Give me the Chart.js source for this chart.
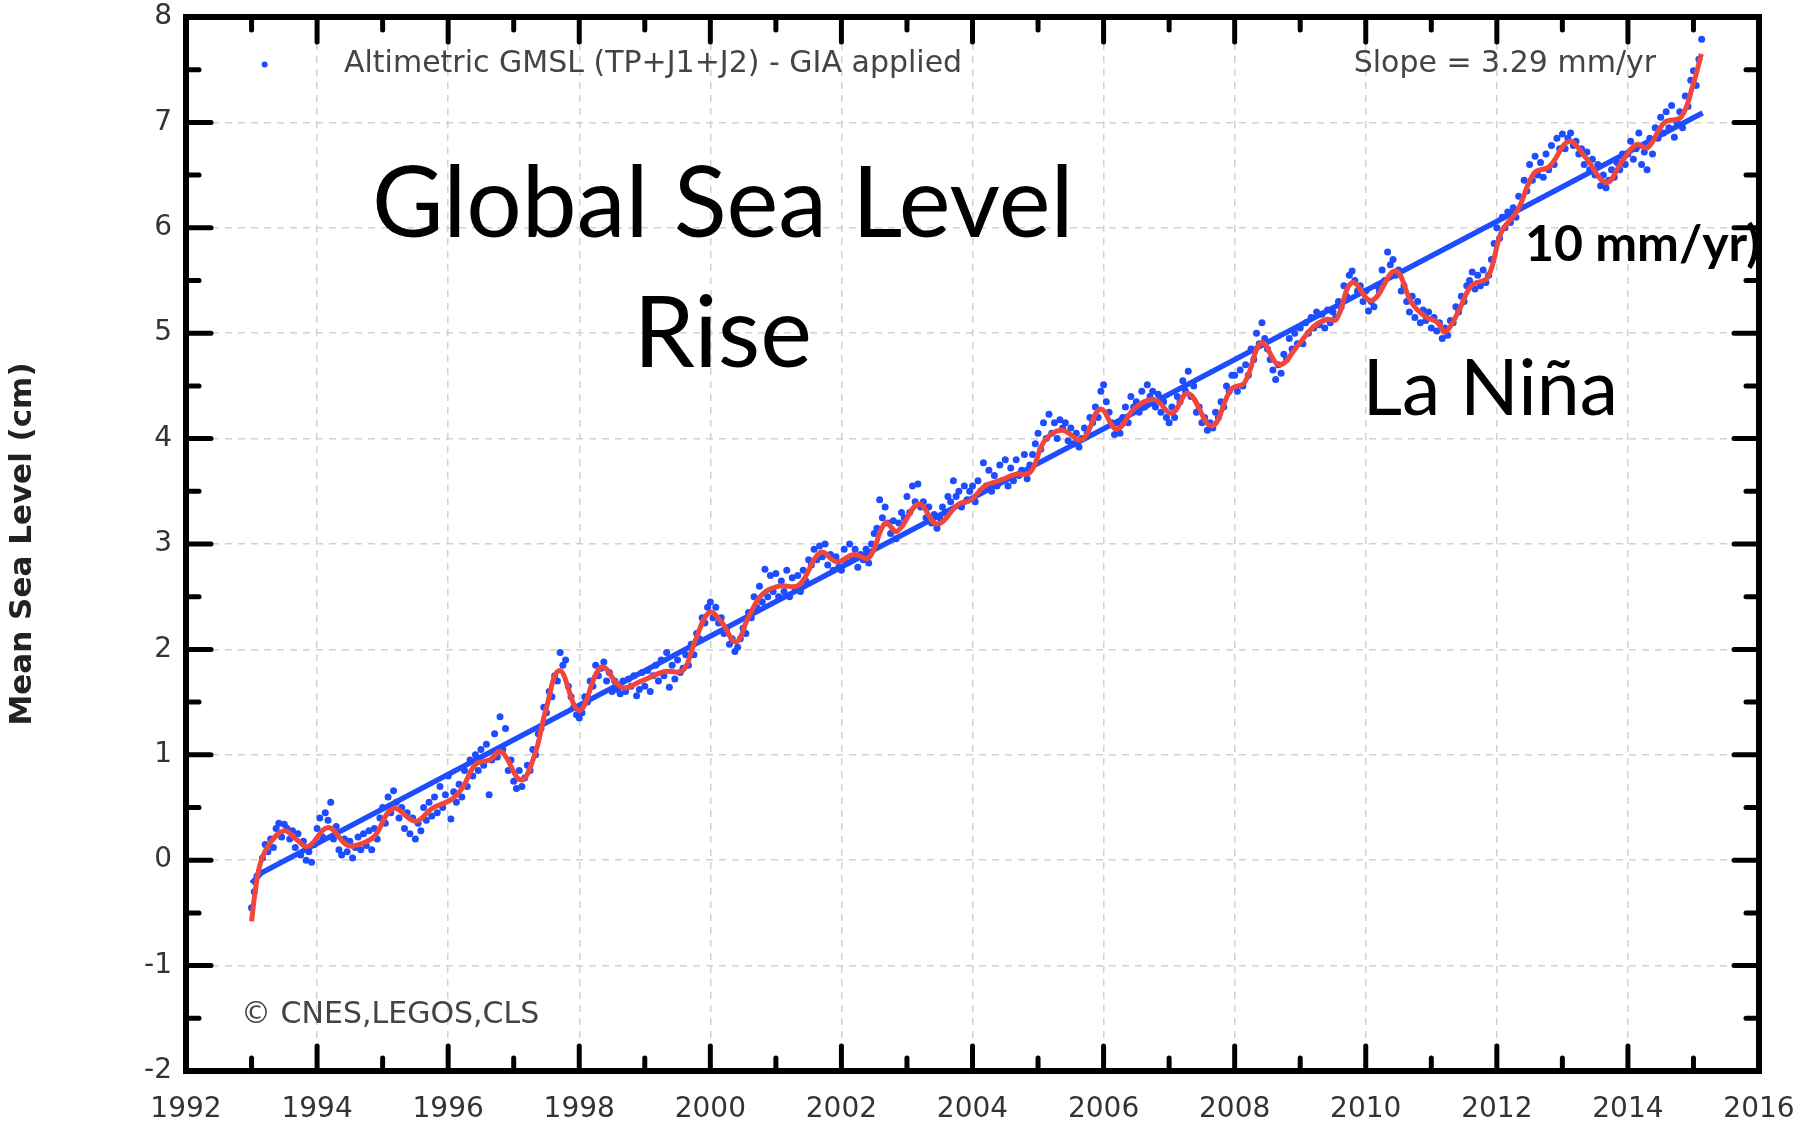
<!DOCTYPE html>
<html>
<head>
<meta charset="utf-8">
<script src="https://cdn.jsdelivr.net/npm/chart.js@4.4.0/dist/chart.umd.min.js"></script>
<style>
  html, body { margin: 0; padding: 0; background: #fff; }
  #wrap { width: 1797px; height: 1127px; position: relative; }
</style>
</head>
<body>
<div id="wrap"><canvas id="gmsl"></canvas></div>
<script>
// altimetric GMSL, one value every half month from 1993.0 (cm)
const gmslStart = 1993.0;
const gmslStep = 1 / 24;
const gmslValues = [
  -0.45, -0.3, -0.15, -0.12, 0.02, 0.15, 0.08, 0.2, 0.12, 0.3, 0.35, 0.22, 0.34, 0.3, 0.2, 0.28, 0.12, 0.25, 0.05, 0.18, 0.0, 0.08, -0.02, 0.15,
  0.3, 0.4, 0.22, 0.45, 0.38, 0.55, 0.2, 0.32, 0.1, 0.05, 0.2, 0.08, 0.18, 0.02, 0.12, 0.22, 0.1, 0.25, 0.14, 0.28, 0.1, 0.3, 0.2, 0.4,
  0.5, 0.35, 0.6, 0.45, 0.66, 0.55, 0.4, 0.5, 0.3, 0.45, 0.25, 0.4, 0.2, 0.35, 0.28, 0.5, 0.38, 0.55, 0.42, 0.6, 0.45, 0.7, 0.5, 0.62,
  0.8, 0.39, 0.65, 0.55, 0.72, 0.6, 0.85, 0.7, 0.95, 0.8, 1.0, 0.85, 1.05, 0.9, 1.1, 0.62, 0.95, 1.2, 0.98, 1.36, 1.05, 1.25, 0.85, 0.95,
  0.75, 0.68, 0.85, 0.7, 0.78, 0.9, 0.85, 1.05, 1.0, 1.2, 1.25, 1.45, 1.4, 1.6, 1.55, 1.75, 1.7, 1.97, 1.85, 1.9, 1.65, 1.55, 1.45, 1.38,
  1.35, 1.4, 1.55, 1.5, 1.7, 1.65, 1.85, 1.75, 1.82, 1.88, 1.7, 1.78, 1.6, 1.7, 1.62, 1.58, 1.7, 1.6, 1.72, 1.65, 1.75, 1.56, 1.62, 1.78,
  1.65, 1.8, 1.6, 1.75, 1.85, 1.7, 1.9, 1.75, 1.97, 1.64, 1.85, 1.72, 1.9, 1.78, 1.82, 1.95, 1.85, 2.05, 1.95, 2.15, 2.1, 2.3, 2.25, 2.4,
  2.45, 2.3, 2.4, 2.25, 2.3, 2.15, 2.2, 2.05, 2.1, 1.98, 2.02, 2.1, 2.2, 2.15, 2.35, 2.3, 2.5, 2.4, 2.6, 2.45, 2.76, 2.5, 2.7, 2.55,
  2.72, 2.5, 2.65, 2.55, 2.75, 2.5, 2.68, 2.58, 2.7, 2.55, 2.75, 2.65, 2.85, 2.8, 2.95, 2.85, 2.98, 2.88, 3.0, 2.8, 2.9, 2.75, 2.88, 2.78,
  2.75, 2.95, 2.82, 3.0, 2.85, 2.95, 2.78, 2.9, 2.85, 2.95, 2.82, 3.0, 3.1, 3.15, 3.42, 3.25, 3.35, 3.2, 3.1, 3.22, 3.05, 3.2, 3.3, 3.25,
  3.45, 3.3, 3.55, 3.4, 3.57, 3.35, 3.4, 3.25, 3.35, 3.2, 3.28, 3.15, 3.25, 3.35, 3.3, 3.45, 3.4, 3.6, 3.45, 3.5, 3.35, 3.55, 3.42, 3.5,
  3.55, 3.4, 3.6, 3.5, 3.77, 3.55, 3.7, 3.5, 3.65, 3.55, 3.75, 3.6, 3.8, 3.55, 3.72, 3.6, 3.8, 3.65, 3.7, 3.85, 3.62, 3.75, 3.85, 3.95,
  4.05, 3.9, 4.15, 4.0, 4.23, 4.05, 4.15, 4.0, 4.18, 4.1, 4.15, 3.98, 4.1, 3.95, 4.05, 3.92, 4.0, 4.1, 4.05, 4.2, 4.15, 4.3, 4.2, 4.45,
  4.51, 4.35, 4.25, 4.15, 4.04, 4.15, 4.05, 4.2, 4.3, 4.15, 4.4, 4.3, 4.35, 4.25, 4.45, 4.3, 4.51, 4.4, 4.45, 4.3, 4.42, 4.25, 4.35, 4.2,
  4.15, 4.3, 4.2, 4.4, 4.35, 4.55, 4.45, 4.64, 4.4, 4.5, 4.25, 4.3, 4.15, 4.2, 4.08, 4.15, 4.1, 4.25, 4.2, 4.35, 4.3, 4.5, 4.45, 4.6,
  4.6, 4.45, 4.65, 4.5, 4.7, 4.6, 4.85, 4.75, 5.0, 4.9, 5.1, 4.95, 4.85, 4.75, 4.65, 4.56, 4.7, 4.62, 4.8, 4.75, 4.95, 4.85, 5.0, 4.9,
  5.05, 4.9, 5.1, 5.0, 5.15, 5.05, 5.2, 5.08, 5.18, 5.05, 5.22, 5.1, 5.2, 5.15, 5.3, 5.25, 5.45, 5.35, 5.55, 5.59, 5.5, 5.4, 5.45, 5.3,
  5.4, 5.21, 5.3, 5.25, 5.45, 5.4, 5.6, 5.5, 5.77, 5.65, 5.7, 5.55, 5.6, 5.4, 5.45, 5.3, 5.2, 5.35, 5.15, 5.3, 5.1, 5.22, 5.12, 5.2,
  5.05, 5.15, 5.02, 5.1, 4.95, 5.05, 4.98, 5.12, 5.1, 5.25, 5.2, 5.35, 5.3, 5.45, 5.5, 5.58, 5.42, 5.55, 5.45, 5.6, 5.48, 5.55, 5.7, 5.85,
  6.0, 5.9, 6.1, 6.0, 6.15, 6.05, 6.19, 6.1, 6.3, 6.2, 6.45, 6.35, 6.6, 6.45, 6.68, 6.5, 6.62, 6.48, 6.7, 6.55, 6.78, 6.6, 6.85, 6.75,
  6.89, 6.75, 6.85, 6.9, 6.78, 6.82, 6.7, 6.75, 6.6, 6.72, 6.55, 6.65, 6.5, 6.6, 6.4, 6.5, 6.38, 6.45, 6.55, 6.48, 6.62, 6.55, 6.7, 6.6,
  6.7, 6.82, 6.65, 6.75, 6.9, 6.6, 6.72, 6.55, 6.85, 6.7, 6.95, 6.85, 7.05, 6.9, 7.1, 6.95, 7.16, 6.86, 7.0, 7.1, 6.95, 7.25, 7.15, 7.4,
  7.49, 7.35, 7.6, 7.79
];

// smoothed curve (red)
const smoothYears = [
  1993.00, 1993.06, 1993.14, 1993.29, 1993.50, 1993.68, 1993.86, 1994.17, 1994.47, 1994.73, 1994.88,
  1995.16, 1995.50, 1995.75, 1996.06, 1996.22, 1996.42, 1996.63, 1996.81, 1997.11, 1997.32, 1997.48,
  1997.70, 1998.00, 1998.34, 1998.65, 1998.95, 1999.30, 1999.58, 1999.76, 1999.98, 2000.16, 2000.39,
  2000.57, 2000.79, 2001.05, 2001.35, 2001.68, 2001.93, 2002.19, 2002.42, 2002.67, 2002.85, 2003.18,
  2003.46, 2003.79, 2003.96, 2004.19, 2004.45, 2004.65, 2004.88, 2005.10, 2005.36, 2005.67, 2005.95,
  2006.20, 2006.48, 2006.78, 2007.04, 2007.29, 2007.65, 2007.95, 2008.15, 2008.41, 2008.68, 2008.96,
  2009.20, 2009.40, 2009.55, 2009.79, 2010.09, 2010.45, 2010.70, 2010.90, 2011.10, 2011.21, 2011.41,
  2011.61, 2011.86, 2012.07, 2012.32, 2012.57, 2012.80, 2013.10, 2013.35, 2013.67, 2013.90, 2014.13,
  2014.30, 2014.56, 2014.81, 2014.99, 2015.12
];
const smoothValues = [
  -0.58, -0.28, -0.02, 0.17, 0.28, 0.20, 0.13, 0.31, 0.14, 0.17, 0.23,
  0.49, 0.37, 0.49, 0.58, 0.69, 0.91, 0.95, 1.03, 0.76, 1.00, 1.40,
  1.80, 1.42, 1.83, 1.64, 1.70, 1.79, 1.80, 2.07, 2.35, 2.27, 2.07,
  2.29, 2.52, 2.60, 2.61, 2.92, 2.83, 2.90, 2.87, 3.20, 3.12, 3.38,
  3.19, 3.38, 3.41, 3.55, 3.61, 3.66, 3.68, 3.98, 4.08, 3.99, 4.28,
  4.09, 4.29, 4.37, 4.24, 4.43, 4.12, 4.47, 4.53, 4.91, 4.70, 4.88,
  5.06, 5.13, 5.13, 5.48, 5.31, 5.59, 5.29, 5.16, 5.10, 5.01, 5.20,
  5.45, 5.53, 5.96, 6.17, 6.52, 6.58, 6.82, 6.67, 6.43, 6.62, 6.79,
  6.76, 7.00, 7.05, 7.35, 7.65
];

// linear fit, slope 3.29 mm/yr
const trendYears = [1993.0, 1993.15, 2015.14];
const trendValues = [-0.22, -0.12, 7.09];

const BLUE = '#1e4cff';
const RED = '#f0463c';
const tickFont = { family: 'DejaVu Sans', size: 28 };

function pts(xs, ys) {
  return ys.map((v, i) => ({ x: xs[i], y: v }));
}
const gmslPoints = gmslValues.map((v, i) => ({ x: gmslStart + i * gmslStep, y: v }));

// frame, inward tick marks and the texts drawn on the plot
const decor = {
  id: 'decor',
  afterDraw(chart) {
    const ctx = chart.ctx;
    const a = chart.chartArea;
    const xs = chart.scales.x, ys = chart.scales.y;
    const seg = (x1, y1, x2, y2) => { ctx.beginPath(); ctx.moveTo(x1, y1); ctx.lineTo(x2, y2); ctx.stroke(); };

    ctx.save();
    ctx.strokeStyle = '#000';
    ctx.lineCap = 'round';
    ctx.lineWidth = 5;
    for (let yr = 1993; yr < 2016; yr++) {
      const px = xs.getPixelForValue(yr);
      const len = yr % 2 === 0 ? 25 : 13;
      seg(px, a.bottom, px, a.bottom - len);
      seg(px, a.top, px, a.top + len);
    }
    for (let v = -1.5; v < 8; v += 0.5) {
      const py = ys.getPixelForValue(v);
      const len = Number.isInteger(v) ? 25 : 13;
      seg(a.left, py, a.left + len, py);
      seg(a.right, py, a.right - len, py);
    }
    ctx.lineCap = 'butt';
    ctx.lineWidth = 6;
    ctx.strokeRect(a.left, a.top, a.right - a.left, a.bottom - a.top);

    // legend and credits
    ctx.fillStyle = BLUE;
    ctx.beginPath();
    ctx.arc(xs.getPixelForValue(1993.2), ys.getPixelForValue(7.55), 3, 0, Math.PI * 2);
    ctx.fill();
    ctx.fillStyle = '#444';
    ctx.font = '30px "DejaVu Sans"';
    ctx.textBaseline = 'middle';
    ctx.textAlign = 'left';
    ctx.fillText('Altimetric GMSL (TP+J1+J2) - GIA applied', xs.getPixelForValue(1994.41), ys.getPixelForValue(7.55));
    ctx.fillText('\u00A9 CNES,LEGOS,CLS', xs.getPixelForValue(1992.84), ys.getPixelForValue(-1.47));
    ctx.textAlign = 'right';
    ctx.fillText('Slope = 3.29 mm/yr', xs.getPixelForValue(2014.43), ys.getPixelForValue(7.55));

    // annotations
    ctx.fillStyle = '#000';
    ctx.textAlign = 'center';
    ctx.font = '98px Lato';
    ctx.fillText('Global Sea Level', xs.getPixelForValue(2000.19), ys.getPixelForValue(6.21));
    ctx.fillText('Rise', xs.getPixelForValue(2000.19), ys.getPixelForValue(4.98));
    ctx.font = '77px Lato';
    ctx.fillText('La Niña', xs.getPixelForValue(2011.9), ys.getPixelForValue(4.46));
    ctx.textAlign = 'left';
    ctx.font = 'bold 50px Lato';
    ctx.fillText('10 mm/yr)', xs.getPixelForValue(2012.43), ys.getPixelForValue(5.84));
    ctx.restore();
  }
};

new Chart(document.getElementById('gmsl'), {
  type: 'line',
  data: {
    datasets: [
      {
        label: 'smoothed',
        data: pts(smoothYears, smoothValues),
        borderColor: RED,
        borderWidth: 5,
        pointRadius: 0,
        tension: 0.4,
        order: 0,
      },
      {
        label: 'trend',
        data: pts(trendYears, trendValues),
        borderColor: BLUE,
        borderWidth: 5.5,
        pointRadius: 0,
        tension: 0,
        order: 1,
      },
      {
        label: 'Altimetric GMSL (TP+J1+J2) - GIA applied',
        data: gmslPoints,
        showLine: false,
        pointRadius: 3.5,
        pointBorderWidth: 0,
        pointBackgroundColor: BLUE,
        order: 2,
      },
    ],
  },
  options: {
    responsive: true,
    maintainAspectRatio: false,
    animation: false,
    layout: { padding: { top: 17, right: 38, left: 0, bottom: 0 } },
    plugins: {
      legend: { display: false },
      tooltip: { enabled: false },
    },
    scales: {
      x: {
        type: 'linear',
        min: 1992,
        max: 2016,
        grid: { color: '#d2d2d2', lineWidth: 1.5, drawTicks: false },
        border: { display: false, dash: [7, 6] },
        ticks: { stepSize: 2, padding: 22, color: '#333', font: tickFont, callback: v => String(v), maxRotation: 0 },
        afterFit: s => { s.height = 56; s.paddingLeft = 0; s.paddingRight = 0; },
      },
      y: {
        min: -2,
        max: 8,
        grid: { color: '#d2d2d2', lineWidth: 1.5, drawTicks: false },
        border: { display: false, dash: [7, 6] },
        ticks: { stepSize: 1, padding: 14, color: '#333', font: tickFont, callback: v => String(v) },
        title: {
          display: true,
          text: 'Mean Sea Level (cm)',
          color: '#222',
          font: { family: 'DejaVu Sans', size: 31, weight: 'bold' },
          padding: { top: 4, bottom: 0 },
        },
        afterFit: s => { s.width = 186; s.paddingTop = 0; s.paddingBottom = 0; },
      },
    },
  },
  plugins: [decor],
});
</script>
</body>
</html>
